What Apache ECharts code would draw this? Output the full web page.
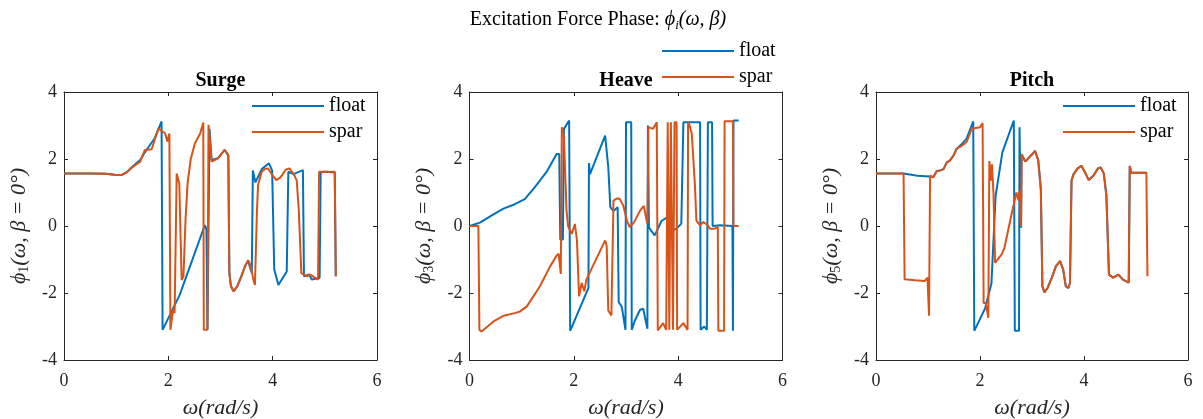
<!DOCTYPE html>
<html><head><meta charset="utf-8">
<script src="https://cdn.jsdelivr.net/npm/echarts@6/dist/echarts.min.js"></script>
<style>html,body{margin:0;padding:0;background:#fff}#c{width:1203px;height:419px}</style>
</head><body><div id="c"></div>
<script>
// ---- data ----
const mainTitle = 'Excitation Force Phase: ';
const panelTitles = ['Surge', 'Heave', 'Pitch'];
const dofIndex = ['1', '3', '5'];
const seriesNames = ['float', 'spar'];
const xLabel = 'ω(rad/s)';
const xTicks = [0, 2, 4, 6];
const yTicks = [-4, -2, 0, 2, 4];

const surgeFloat = [[0,1.57],[0.5,1.57],[0.8,1.56],[1.0,1.52],[1.1,1.52],[1.2,1.6],[1.33,1.8],[1.46,1.97],[1.58,2.27],[1.74,2.62],[1.87,3.12],[1.89,-3.1],[2.22,-2.05],[2.70,0.03],[2.73,-0.1],[2.75,-3.1],[2.78,-3.1],[2.79,2.9],[2.83,1.97],[2.95,2.02],[3.08,2.27],[3.15,2.1],[3.17,-1.41],[3.20,-1.8],[3.25,-1.95],[3.32,-1.8],[3.40,-1.5],[3.47,-1.2],[3.53,-1.04],[3.56,-1.05],[3.60,-1.4],[3.62,1.66],[3.67,1.3],[3.79,1.7],[3.93,1.87],[3.99,1.65],[4.03,-1.3],[4.11,-1.76],[4.27,-1.36],[4.30,1.62],[4.40,1.55],[4.58,1.67],[4.60,-1.5],[4.70,-1.45],[4.75,-1.6],[4.90,-1.55],[4.92,1.6],[5.00,1.62],[5.19,1.6],[5.21,-1.5]];
const surgeSpar = [[0,1.57],[0.5,1.57],[0.8,1.56],[1.0,1.52],[1.1,1.52],[1.2,1.6],[1.33,1.78],[1.46,1.92],[1.55,2.27],[1.68,2.29],[1.81,2.91],[1.94,2.76],[1.98,2.52],[2.02,2.76],[2.04,-3.1],[2.09,-2.5],[2.12,-2.6],[2.16,1.57],[2.21,1.27],[2.255,-1.61],[2.29,-1.5],[2.33,0.2],[2.37,1.3],[2.43,2.0],[2.51,2.47],[2.61,2.76],[2.67,3.09],[2.68,-3.1],[2.75,-3.1],[2.77,3.02],[2.83,1.92],[2.95,2.02],[3.08,2.27],[3.15,2.12],[3.17,-1.41],[3.20,-1.8],[3.25,-1.95],[3.32,-1.8],[3.40,-1.5],[3.47,-1.2],[3.53,-1.02],[3.58,-1.2],[3.63,-1.6],[3.66,-1.76],[3.70,0.5],[3.72,1.22],[3.79,1.62],[3.85,1.7],[3.91,1.72],[3.98,1.55],[4.07,1.37],[4.15,1.45],[4.25,1.68],[4.32,1.72],[4.40,1.55],[4.46,1.37],[4.50,0.5],[4.55,-1.41],[4.65,-1.5],[4.72,-1.45],[4.87,-1.6],[4.89,1.62],[5.19,1.62],[5.21,-1.5]];

const heaveFloat = [[0,0],[0.2,0.1],[0.46,0.35],[0.65,0.52],[0.87,0.65],[1.06,0.8],[1.25,1.15],[1.48,1.62],[1.67,2.15],[1.72,2.15],[1.74,-0.4],[1.79,-0.4],[1.81,2.9],[1.91,3.15],[1.93,-3.13],[2.28,-1.85],[2.29,1.88],[2.31,1.55],[2.60,2.7],[2.66,1.76],[2.70,0.56],[2.76,0.45],[2.84,0.56],[2.86,-2.27],[2.92,-2.42],[2.99,-3.1],[3.00,3.1],[3.10,3.1],[3.11,-3.1],[3.17,-2.82],[3.27,-2.5],[3.33,-2.47],[3.41,-3.07],[3.42,3.0],[3.44,-0.05],[3.55,-0.28],[3.68,0.15],[3.78,0.25],[3.87,-0.13],[3.97,-0.08],[4.06,0.07],[4.10,3.1],[4.42,3.1],[4.43,-3.1],[4.50,-3.0],[4.55,-3.1],[4.57,3.1],[4.65,3.1],[4.66,0.0],[4.80,0.02],[5.04,0.0],[5.05,-3.13],[5.06,3.15],[5.16,3.15]];
const heaveSpar = [[0,0],[0.17,0],[0.19,-3.1],[0.23,-3.15],[0.46,-2.85],[0.65,-2.68],[0.87,-2.6],[0.97,-2.55],[1.10,-2.4],[1.35,-1.8],[1.54,-1.22],[1.67,-0.88],[1.71,-0.83],[1.75,-1.43],[1.77,2.95],[1.81,2.65],[1.86,0.46],[1.89,0.0],[1.96,-0.24],[2.02,0.06],[2.06,-0.43],[2.10,-2.1],[2.15,-1.7],[2.20,-1.95],[2.24,-1.6],[2.60,-0.43],[2.63,-0.6],[2.66,-2.52],[2.72,-2.67],[2.76,0.76],[2.82,0.82],[2.88,0.81],[2.95,0.6],[3.02,0.15],[3.07,-0.03],[3.15,0.1],[3.27,0.46],[3.34,0.6],[3.41,0.06],[3.43,2.95],[3.52,2.9],[3.59,3.1],[3.61,-3.12],[3.71,-2.9],[3.77,-3.1],[3.80,3.1],[3.82,3.1],[3.83,-3.1],[3.85,-3.1],[3.86,3.1],[3.89,3.1],[3.90,-3.1],[3.92,-3.1],[3.93,3.1],[3.97,3.1],[3.98,-3.1],[4.10,-2.9],[4.18,-3.1],[4.19,3.1],[4.22,3.0],[4.26,2.76],[4.32,1.25],[4.35,0.16],[4.42,0.02],[4.48,0.12],[4.55,0.05],[4.61,-0.08],[4.70,-0.08],[4.76,-0.03],[4.77,-3.13],[4.88,-3.13],[4.89,3.13],[5.05,3.13],[5.06,0],[5.16,0]];

const pitchFloat = [[0,1.57],[0.53,1.57],[0.8,1.5],[1.03,1.48],[1.10,1.46],[1.17,1.64],[1.24,1.66],[1.30,1.7],[1.36,1.9],[1.42,1.95],[1.49,2.1],[1.55,2.3],[1.65,2.45],[1.74,2.6],[1.87,3.12],[1.89,-3.13],[2.10,-2.45],[2.22,-1.72],[2.30,0.9],[2.43,2.2],[2.65,3.15],[2.67,-3.13],[2.75,-3.13],[2.76,2.95],[2.79,-0.05],[2.80,2.14],[2.87,1.92],[3.06,2.24],[3.12,1.96],[3.17,1.1],[3.20,-1.8],[3.24,-1.98],[3.30,-1.85],[3.38,-1.55],[3.46,-1.2],[3.54,-1.05],[3.60,-1.3],[3.65,-1.8],[3.70,-1.85],[3.73,-1.7],[3.76,1.35],[3.80,1.55],[3.88,1.72],[3.95,1.8],[4.02,1.6],[4.09,1.37],[4.18,1.5],[4.27,1.72],[4.32,1.75],[4.38,1.57],[4.43,0.92],[4.48,-1.45],[4.56,-1.54],[4.66,-1.45],[4.75,-1.6],[4.86,-1.69],[4.88,1.79],[4.91,1.59],[5.20,1.59]];
const pitchSpar = [[0,1.57],[0.53,1.57],[0.55,-1.59],[0.75,-1.62],[0.94,-1.64],[0.99,-1.54],[1.02,-2.68],[1.04,1.5],[1.10,1.45],[1.17,1.64],[1.24,1.66],[1.30,1.7],[1.36,1.9],[1.42,1.95],[1.49,2.1],[1.55,2.3],[1.65,2.4],[1.74,2.5],[1.84,2.9],[2.0,2.95],[2.05,3.07],[2.07,-2.3],[2.11,-2.3],[2.16,-2.74],[2.18,1.94],[2.21,1.35],[2.23,1.84],[2.26,0.95],[2.29,-1.1],[2.42,-0.84],[2.47,-0.65],[2.60,0.3],[2.70,1.0],[2.74,0.76],[2.76,1.05],[2.79,0.0],[2.80,2.14],[2.87,1.92],[3.06,2.24],[3.12,1.96],[3.17,1.1],[3.20,-1.8],[3.24,-1.98],[3.30,-1.85],[3.38,-1.55],[3.46,-1.2],[3.54,-1.05],[3.60,-1.3],[3.65,-1.8],[3.70,-1.85],[3.73,-1.7],[3.76,1.35],[3.80,1.55],[3.88,1.72],[3.95,1.8],[4.02,1.6],[4.09,1.37],[4.18,1.5],[4.27,1.72],[4.32,1.75],[4.38,1.57],[4.43,0.92],[4.48,-1.45],[4.56,-1.54],[4.66,-1.45],[4.75,-1.6],[4.86,-1.69],[4.88,1.79],[4.91,1.59],[5.20,1.59],[5.22,-1.5]];

const panelData = [[surgeFloat, surgeSpar],[heaveFloat, heaveSpar],[pitchFloat, pitchSpar]];

// ---- layout / style ----
const FONT = '"Liberation Serif", "Times New Roman", serif';
const AX = '#262626';
const COLORS = ['#0072BD', '#D95319'];
const grids = [
  {left: 64, top: 92, width: 313, height: 268, outerBoundsMode: 'none', containLabel: false},
  {left: 469.5, top: 92, width: 313, height: 268, outerBoundsMode: 'none', containLabel: false},
  {left: 876, top: 92, width: 312, height: 268, outerBoundsMode: 'none', containLabel: false}
];
const legendPos = [
  {left: 252, top: 95},
  {left: 662, top: 40},
  {left: 1063, top: 95}
];

const xAxes = [], yAxes = [], series = [], legends = [], graphics = [];
grids.forEach((g, i) => {
  const common = {gridIndex: i, type: 'value', splitLine: {show: false},
    axisLine: {show: true, onZero: false, lineStyle: {color: AX, width: 1}},
    axisTick: {show: true, inside: true, length: 4, lineStyle: {color: AX}}};
  xAxes.push(Object.assign({}, common, {position: 'bottom', min: xTicks[0], max: xTicks[xTicks.length-1], interval: 2,
    axisLabel: {color: AX, fontFamily: FONT, fontSize: 18, margin: 12},
    name: xLabel, nameLocation: 'middle', nameGap: 37,
    nameTextStyle: {color: AX, fontFamily: FONT, fontStyle: 'italic', fontSize: 22}}));
  xAxes.push(Object.assign({}, common, {position: 'top', min: xTicks[0], max: xTicks[xTicks.length-1], interval: 2,
    axisLabel: {show: false}}));
  yAxes.push(Object.assign({}, common, {position: 'left', min: yTicks[0], max: yTicks[yTicks.length-1], interval: 2,
    axisLabel: {color: AX, fontFamily: FONT, fontSize: 18, margin: 7},
    name: '{i|ϕ}{s|' + dofIndex[i] + '}{i|(ω, β = 0°)}', nameLocation: 'middle', nameGap: 33, nameRotate: 90,
    nameTextStyle: {color: AX, rich: {
      i: {fontFamily: FONT, fontStyle: 'italic', fontSize: 22, color: AX, lineHeight: 24},
      s: {fontFamily: FONT, fontSize: 14, color: AX, verticalAlign: 'bottom', lineHeight: 17}
    }}}));
  yAxes.push(Object.assign({}, common, {position: 'right', min: yTicks[0], max: yTicks[yTicks.length-1], interval: 2,
    axisLabel: {show: false}}));
  seriesNames.forEach((nm, k) => {
    series.push({type: 'line', name: nm, xAxisIndex: 2*i, yAxisIndex: 2*i, data: panelData[i][k],
      showSymbol: false, symbol: 'none', clip: true, lineStyle: {width: 2, color: COLORS[k]},
      itemStyle: {color: COLORS[k]}, z: 2 + k});
  });
  legends.push({data: seriesNames, orient: 'vertical', left: legendPos[i].left, top: legendPos[i].top,
    icon: 'rect', itemWidth: 72, itemHeight: 2, itemGap: 4, selectedMode: false, padding: 0,
    textStyle: {fontFamily: FONT, fontSize: 20, color: '#000', lineHeight: 22}});
  graphics.push({type: 'text', x: g.left + g.width/2, y: 81,
    style: {text: panelTitles[i], font: 'bold 20px ' + FONT, fill: '#000', textAlign: 'center', textVerticalAlign: 'middle'}});
});
graphics.push({type: 'text', x: 598, y: 20,
  style: {text: '{n|' + mainTitle + '}{i|ϕ}{s|i}{i|(ω, β)}', textAlign: 'center', textVerticalAlign: 'middle',
    rich: {
      n: {fontFamily: FONT, fontSize: 20, fill: '#000', lineHeight: 24},
      i: {fontFamily: FONT, fontStyle: 'italic', fontSize: 20, fill: '#000', lineHeight: 24},
      s: {fontFamily: FONT, fontStyle: 'italic', fontSize: 13, fill: '#000', verticalAlign: 'bottom', lineHeight: 17}
    }}});

const chart = echarts.init(document.getElementById('c'), null, {renderer: 'canvas'});
chart.setOption({
  animation: false,
  backgroundColor: '#fff',
  grid: grids,
  xAxis: xAxes,
  yAxis: yAxes,
  legend: legends,
  series: series,
  graphic: graphics
});
</script></body></html>
